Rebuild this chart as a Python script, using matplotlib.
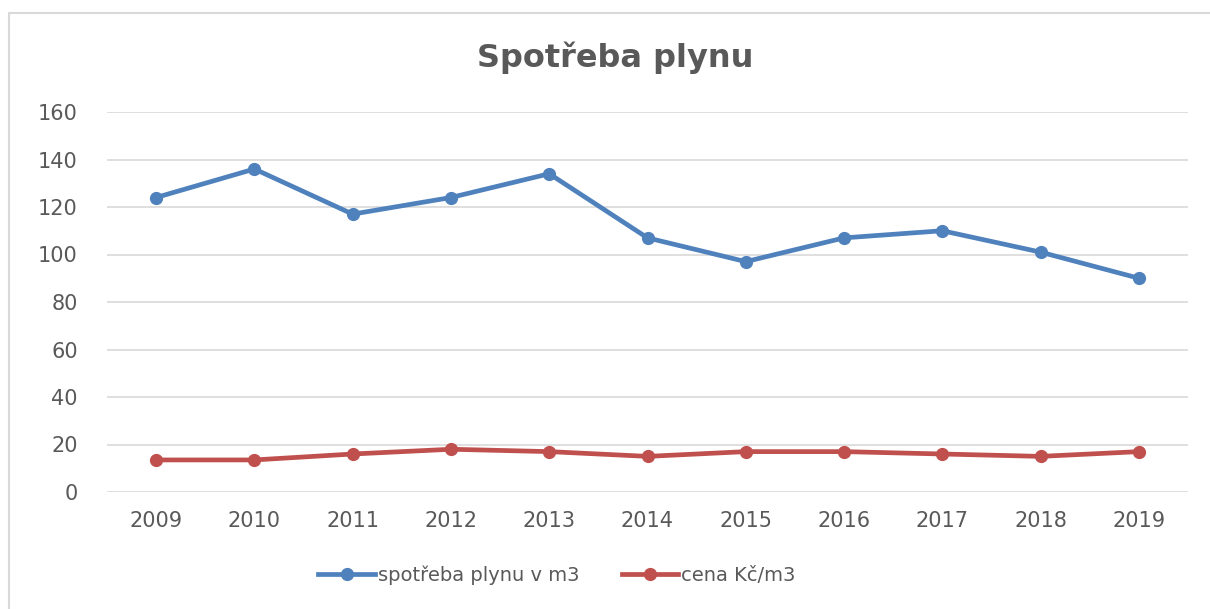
import matplotlib
matplotlib.use("Agg")
from matplotlib import pyplot as plt
from matplotlib.lines import Line2D

years = ["2009", "2010", "2011", "2012", "2013", "2014", "2015", "2016", "2017", "2018", "2019"]
spotreba = [124, 136, 117, 124, 134, 107, 97, 107, 110, 101, 90]
cena = [13.5, 13.5, 16, 18, 17, 15, 17, 17, 16, 15, 17]

text_color = '#595959'
grid_color = '#D9D9D9'

plt.rcParams.update({
    'font.family': ['DejaVu Sans'],
    'font.size': 14,
})

fig = plt.figure(figsize=(12.1, 6.09), dpi=100)
ax = fig.add_axes([107 / 1210, 1 - 492 / 609, (1188 - 107) / 1210, (492 - 112) / 609])

x = list(range(len(years)))
ax.plot(x, spotreba, color='#4F81BD', lw=3.4, marker='o', ms=8.5, label='spotřeba plynu v m3')
ax.plot(x, cena, color='#C0504D', lw=3.4, marker='o', ms=8.5, label='cena Kč/m3')

ax.set_xlim(-0.5, len(years) - 0.5)
ax.set_ylim(0, 160)
ax.set_yticks(range(0, 161, 20))
ax.set_xticks(x)
ax.set_xticklabels(years)
ax.yaxis.grid(True, color=grid_color, lw=1.2)
ax.set_axisbelow(True)
for s in ax.spines.values():
    s.set_visible(False)
ax.tick_params(axis='both', length=0, colors=text_color, labelsize=15)
ax.tick_params(axis='x', pad=14)
ax.tick_params(axis='y', pad=21)

fig.suptitle('Spotřeba plynu', x=615 / 1210, y=1 - 58 / 609, va='center',
             fontsize=23, fontweight='bold', color=text_color)

leg = fig.legend(loc='center', bbox_to_anchor=(557 / 1210, 1 - 575 / 609), ncol=2,
                 frameon=False, fontsize=14, handlelength=2.9, handletextpad=0.15,
                 columnspacing=2.2)
for t in leg.get_texts():
    t.set_color(text_color)

# chart border (top and left edges only visible)
fig.add_artist(Line2D([9 / 1210, 9 / 1210, 1.0], [0.0, 1 - 13 / 609, 1 - 13 / 609],
                      transform=fig.transFigure, color=grid_color, lw=1.5))

plt.savefig('out.png', dpi=100)
